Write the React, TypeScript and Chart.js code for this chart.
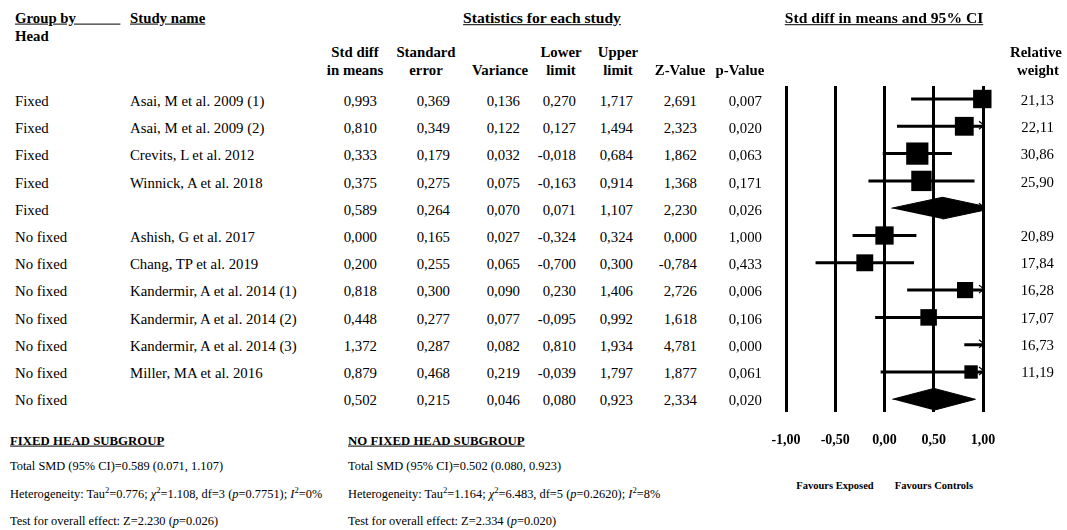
import React, { useEffect, useRef } from 'react';
import { Chart, registerables } from 'chart.js';

Chart.register(...registerables);

// table rows, top to bottom (two subgroup summaries at index 4 and 11)
const groups = ['Fixed', 'Fixed', 'Fixed', 'Fixed', 'Fixed', 'No fixed', 'No fixed', 'No fixed', 'No fixed', 'No fixed', 'No fixed', 'No fixed'];
const studies = [
  'Asai, M et al. 2009 (1)', 'Asai, M et al. 2009 (2)', 'Crevits, L et al. 2012', 'Winnick, A et al. 2018', '',
  'Ashish, G et al. 2017', 'Chang, TP et al. 2019', 'Kandermir, A et al. 2014 (1)', 'Kandermir, A et al. 2014 (2)',
  'Kandermir, A et al. 2014 (3)', 'Miller, MA et al. 2016', '',
];
const stdDiff = [0.993, 0.810, 0.333, 0.375, 0.589, 0.000, 0.200, 0.818, 0.448, 1.372, 0.879, 0.502];
const stdErr = [0.369, 0.349, 0.179, 0.275, 0.264, 0.165, 0.255, 0.300, 0.277, 0.287, 0.468, 0.215];
const variance = [0.136, 0.122, 0.032, 0.075, 0.070, 0.027, 0.065, 0.090, 0.077, 0.082, 0.219, 0.046];
const lowerLimit = [0.270, 0.127, -0.018, -0.163, 0.071, -0.324, -0.700, 0.230, -0.095, 0.810, -0.039, 0.080];
const upperLimit = [1.717, 1.494, 0.684, 0.914, 1.107, 0.324, 0.300, 1.406, 0.992, 1.934, 1.797, 0.923];
const zValue = [2.691, 2.323, 1.862, 1.368, 2.230, 0.000, -0.784, 2.726, 1.618, 4.781, 1.877, 2.334];
const pValue = [0.007, 0.020, 0.063, 0.171, 0.026, 1.000, 0.433, 0.006, 0.106, 0.000, 0.061, 0.020];
const weights: (number | null)[] = [21.13, 22.11, 30.86, 25.90, null, 20.89, 17.84, 16.28, 17.07, 16.73, 11.19, null];
// where the marks sit in the plot (Chang is drawn at -0.2 although the table prints 0,200)
const plotted = [0.993, 0.810, 0.333, 0.375, 0.589, 0.000, -0.200, 0.818, 0.448, 1.372, 0.879, 0.502];
const summaryRows = [4, 11];

// subgroup footnotes
const subgroupTitles = ['FIXED HEAD SUBGROUP', 'NO FIXED HEAD SUBGROUP'];
const tau2 = [0.776, 1.164];
const chi2 = [1.108, 6.483];
const dfs = [3, 5];
const hetP = [0.7751, 0.2620];
const iSquared = [0, 8];

const FONT = "'Liberation Serif', 'Times New Roman', serif";
const rowText = (i: number) => 101 + 27.2 * i;
const fmt = (v: number, d: number) => v.toFixed(d).replace('.', ',');

type TxtProps = { x: number; y: number; align?: 'left' | 'center' | 'right'; bold?: boolean; size?: number; underline?: boolean; children: React.ReactNode };
const Txt = ({ x, y, align = 'left', bold, size = 14.8, underline, children }: TxtProps) => {
  const tx = align === 'left' ? '0' : align === 'center' ? '-50%' : '-100%';
  return (
    <div style={{
      position: 'absolute', left: x, top: y, transform: `translate(${tx}, -50%)`, whiteSpace: 'nowrap',
      fontWeight: bold ? 700 : 400, fontSize: size, lineHeight: 1, textDecoration: underline ? 'underline' : 'none',
    }}>{children}</div>
  );
};

const Sup = ({ children }: { children: React.ReactNode }) => (
  <sup style={{ fontSize: '0.7em', lineHeight: 0 }}>{children}</sup>
);

// little ">" where a confidence interval runs past the right end of the axis
const arrowPlugin = {
  id: 'clipArrows',
  afterDatasetsDraw(chart: any) {
    const { ctx, scales } = chart;
    const x = scales.x, y = scales.y;
    const xr = x.getPixelForValue(x.max);
    ctx.save();
    ctx.strokeStyle = '#000';
    ctx.lineWidth = 1.2;
    upperLimit.forEach((u, i) => {
      if (u <= x.max) return;
      const py = y.getPixelForValue(i) - 1;
      ctx.beginPath();
      ctx.moveTo(xr - 4, py - 4);
      ctx.lineTo(xr + 1, py);
      ctx.lineTo(xr - 4, py + 4);
      ctx.stroke();
    });
    ctx.restore();
  },
};

function ForestPlot() {
  const canvasRef = useRef<HTMLCanvasElement>(null);
  const chartRef = useRef<Chart | null>(null);

  useEffect(() => {
    if (!canvasRef.current) return;
    const ctx = canvasRef.current.getContext('2d');
    if (!ctx) return;

    const ciData: any[] = [];
    const squareData: any[] = [];
    studies.forEach((_, i) => {
      if (summaryRows.includes(i)) return;
      ciData.push({ x: lowerLimit[i], y: i }, { x: upperLimit[i], y: i }, { x: null, y: null });
      squareData.push({ x: plotted[i], y: i, w: weights[i] });
    });

    const diamondHalf = 0.4;
    const diamonds = summaryRows.map((i) => ({
      type: 'scatter' as const,
      data: [
        { x: lowerLimit[i], y: i },
        { x: plotted[i], y: i - diamondHalf },
        { x: upperLimit[i], y: i },
        { x: plotted[i], y: i + diamondHalf },
      ],
      showLine: true,
      fill: 'shape' as const,
      backgroundColor: '#000',
      borderColor: '#000',
      borderWidth: 1,
      pointRadius: 0,
      tension: 0,
    }));

    chartRef.current = new Chart(ctx, {
      type: 'scatter',
      data: {
        datasets: [
          {
            data: ciData,
            showLine: true,
            spanGaps: false,
            borderColor: '#000',
            borderWidth: 3,
            pointRadius: 0,
          },
          {
            data: squareData,
            pointStyle: 'rect',
            backgroundColor: '#000',
            borderWidth: 0,
            pointRadius: (c: any) => (c.raw && c.raw.w ? 2.83 * Math.sqrt(c.raw.w) : 0),
            clip: false,
          },
          ...diamonds,
        ] as any,
      },
      options: {
        animation: false,
        responsive: true,
        maintainAspectRatio: false,
        layout: { padding: { left: 46, right: 84, top: 86, bottom: 0 } },
        plugins: { legend: { display: false }, tooltip: { enabled: false } },
        scales: {
          x: {
            type: 'linear',
            min: -1,
            max: 1,
            afterFit: (s: any) => { s.height = 48; },
            border: { display: false },
            grid: { color: '#000', lineWidth: 3, drawTicks: false },
            ticks: {
              stepSize: 0.5,
              padding: 20,
              color: '#000',
              font: { family: FONT, size: 14, weight: 'bold' },
              callback: (v: any) => fmt(Number(v), 2),
            },
          },
          y: {
            type: 'linear',
            display: false,
            reverse: true,
            min: -0.476,
            max: 11.465,
          },
        },
      } as any,
      plugins: [arrowPlugin],
    });

    return () => {
      if (chartRef.current) chartRef.current.destroy();
    };
  }, []);

  return (
    <div style={{ position: 'absolute', left: 740, top: 0, width: 327, height: 460 }}>
      <canvas ref={canvasRef} />
    </div>
  );
}

const numCols = [
  { right: 377, center: 355, head: ['Std diff', 'in means'], values: stdDiff },
  { right: 450, center: 426, head: ['Standard', 'error'], values: stdErr },
  { right: 520, center: 500, head: ['', 'Variance'], values: variance },
  { right: 576, center: 561, head: ['Lower', 'limit'], values: lowerLimit },
  { right: 633, center: 618, head: ['Upper', 'limit'], values: upperLimit },
  { right: 697, center: 680, head: ['', 'Z-Value'], values: zValue },
  { right: 762, center: 740, head: ['', 'p-Value'], values: pValue },
];

export default function App() {
  return (
    <div style={{ position: 'fixed', left: 0, top: 0, width: 1067, height: 530, background: '#fff', color: '#000', fontFamily: FONT, overflow: 'hidden' }}>
      <ForestPlot />

      <Txt x={15} y={18} bold underline>{'Group by\u00a0\u00a0\u00a0\u00a0\u00a0\u00a0\u00a0\u00a0\u00a0\u00a0\u00a0\u00a0'}</Txt>
      <Txt x={15} y={36} bold>Head</Txt>
      <Txt x={130} y={18} bold underline>Study name</Txt>
      <Txt x={542} y={18} align="center" bold underline size={15.6}>Statistics for each study</Txt>
      <Txt x={884} y={18} align="center" bold underline size={15.6}>Std diff in means and 95% CI</Txt>
      <Txt x={1036} y={52} align="center" bold>Relative</Txt>
      <Txt x={1038} y={70} align="center" bold>weight</Txt>

      {numCols.map((c, k) => (
        <React.Fragment key={k}>
          {c.head[0] && <Txt x={c.center} y={52} align="center" bold>{c.head[0]}</Txt>}
          <Txt x={c.center} y={70} align="center" bold>{c.head[1]}</Txt>
        </React.Fragment>
      ))}

      {groups.map((g, i) => (
        <React.Fragment key={i}>
          <Txt x={15} y={rowText(i)}>{g}</Txt>
          {studies[i] && <Txt x={130} y={rowText(i)}>{studies[i]}</Txt>}
          {numCols.map((c, k) => (
            <Txt key={k} x={c.right} y={rowText(i)} align="right">{fmt(c.values[i], 3)}</Txt>
          ))}
          {weights[i] != null && <Txt x={1054} y={rowText(i) - 1} align="right">{fmt(weights[i] as number, 2)}</Txt>}
        </React.Fragment>
      ))}

      <Txt x={835} y={486} align="center" bold size={10.5}>Favours Exposed</Txt>
      <Txt x={934} y={486} align="center" bold size={10.5}>Favours Controls</Txt>

      {summaryRows.map((r, k) => {
        const x = k === 0 ? 10 : 348;
        return (
          <React.Fragment key={k}>
            <Txt x={x} y={441} bold underline size={12.8}>{subgroupTitles[k]}</Txt>
            <Txt x={x} y={466} size={12.4}>
              Total SMD (95% CI)={stdDiff[r].toFixed(3)} ({lowerLimit[r].toFixed(3)}, {upperLimit[r].toFixed(3)})
            </Txt>
            <Txt x={x} y={494} size={12.4}>
              Heterogeneity: Tau<Sup>2</Sup>={tau2[k].toFixed(3)}; <i>χ</i><Sup>2</Sup>={chi2[k].toFixed(3)}, df={dfs[k]} (<i>p</i>={hetP[k].toFixed(4)}); <i>I</i><Sup>2</Sup>={iSquared[k]}%
            </Txt>
            <Txt x={x} y={521} size={12.4}>
              Test for overall effect: Z={zValue[r].toFixed(3)} (<i>p</i>={pValue[r].toFixed(3)})
            </Txt>
          </React.Fragment>
        );
      })}
    </div>
  );
}
